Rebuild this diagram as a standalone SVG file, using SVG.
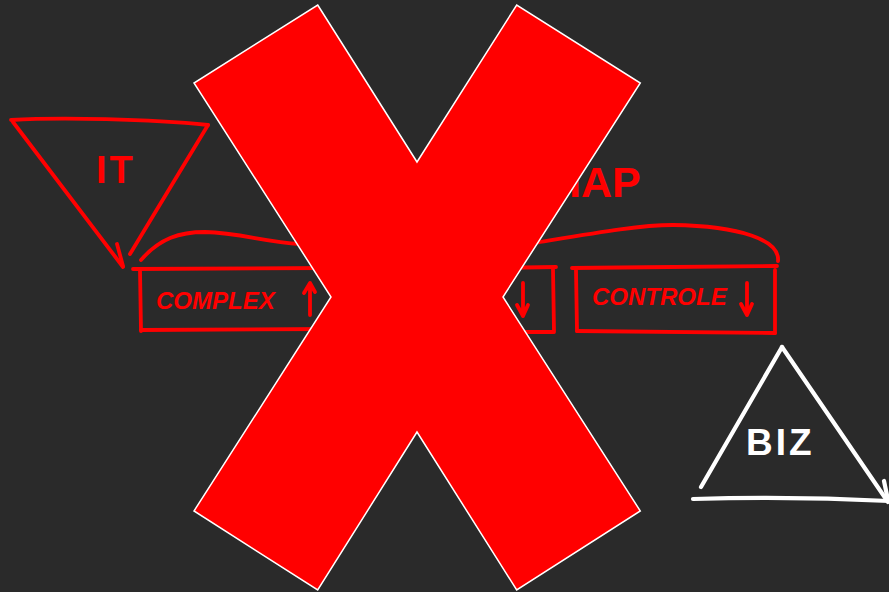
<svg xmlns="http://www.w3.org/2000/svg" width="889" height="592" viewBox="0 0 889 592">
<style>
.r{fill:none;stroke:#ff0000;stroke-width:3.8;stroke-linecap:round;stroke-linejoin:round}
.w{fill:none;stroke:#ffffff;stroke-width:4.2;stroke-linecap:round;stroke-linejoin:round}
.tr{fill:#ff0000;font-family:"Liberation Sans",Arial,sans-serif;font-weight:bold}
.tw{fill:#ffffff;font-family:"Liberation Sans",Arial,sans-serif;font-weight:bold}
</style>
<rect width="889" height="592" fill="#2a2a2a"/>
<g id="it">
<path class="r" d="M11,120 C60,117 150,119 208,125"/>
<path class="r" d="M13,122 L123,267"/>
<path class="r" d="M117,244 L123,266"/>
<path class="r" d="M208,125 L130,254"/>
<text class="tr" x="96" y="183" font-size="38" letter-spacing="3">IT</text>
</g>
<g id="hap">
<text class="tr" x="550" y="197" font-size="43">HAP</text>
</g>
<g id="brace">
<path class="r" d="M141,260 C160,238 180,232 205,232 C240,233 265,242 300,244 C400,250 480,250 540,242 C600,232 640,225 673,225 C740,226 780,240 778,261"/>
</g>
<g id="complex">
<path class="r" d="M133,269 L330,268"/>
<path class="r" d="M140,270 L141,331"/>
<path class="r" d="M141,330 L330,329"/>
<text class="tr" x="156" y="309" font-size="24" font-style="italic">COMPLEX</text>
<path class="r" d="M310,315 L310,284 M304,293 L310,283 L315,292"/>
</g>
<g id="middle">
<path class="r" d="M490,268 L556,267"/>
<path class="r" d="M553,269 L554,332"/>
<path class="r" d="M490,332 L553,332"/>
<path class="r" d="M523,283 L523,316 M517,305 L523,316 L528,305"/>
</g>
<g id="controle">
<path class="r" d="M572,268 C640,267 720,267 777,266"/>
<path class="r" d="M576,270 L577,331"/>
<path class="r" d="M577,331 C650,332 720,332 775,333"/>
<path class="r" d="M775,270 L775,333"/>
<text class="tr" x="592" y="305" font-size="24" font-style="italic">CONTROLE</text>
<path class="r" d="M747,283 L747,315 M741,304 L747,315 L752,304"/>
</g>
<g id="biz">
<path class="w" d="M782,347 L701,487"/>
<path class="w" d="M782,347 L888,502"/>
<path class="w" d="M693,499 C760,497 830,498 889,501"/>
<path class="w" d="M884,481 L888,500"/>
<text class="tw" x="746" y="455" font-size="37" letter-spacing="3">BIZ</text>
</g>
<g id="cross">
<polygon points="317.7,5 417,162 516.7,5 640.3,83 503,297 640.3,511 516.7,590 417,432 317.7,590 194,511 331,297 194,83" fill="#ff0000" stroke="#ffffff" stroke-width="1.5" stroke-linejoin="miter"/>
</g>
</svg>
